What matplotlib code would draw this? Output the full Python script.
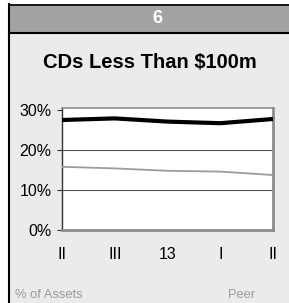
import matplotlib
matplotlib.use("Agg")
from matplotlib import pyplot as plt
from matplotlib.patches import Rectangle
from matplotlib.lines import Line2D
from matplotlib.ticker import FuncFormatter

plt.rcParams['font.family'] = ['Liberation Sans', 'DejaVu Sans']

# data
quarters = ["II", "III", "13", "I", "II"]
bank = [0.275, 0.279, 0.271, 0.267, 0.2775]
peer = [0.158, 0.154, 0.148, 0.146, 0.1375]
y_ticks = [0.0, 0.1, 0.2, 0.3]

W, H = 289, 303
fig = plt.figure(figsize=(W / 100, H / 100), dpi=100)
fig.patch.set_facecolor("white")


def fx(px):
    return px / W


def fy(py):
    return 1 - py / H


# panel background, header band and borders
fig.patches.append(Rectangle((fx(9), 0), 1 - fx(9), fy(4), transform=fig.transFigure,
                             facecolor="#ebebed", edgecolor="none", zorder=-3))
fig.patches.append(Rectangle((fx(9), fy(32.5)), 1 - fx(9), fy(4.5) - fy(32.5),
                             transform=fig.transFigure, facecolor="#a3a3a3",
                             edgecolor="none", zorder=-2))
fig.lines.append(Line2D([fx(9), 1], [fy(4.5), fy(4.5)], transform=fig.transFigure,
                        color="black", lw=1.2, zorder=-1))
fig.lines.append(Line2D([fx(9), 1], [fy(32.5), fy(32.5)], transform=fig.transFigure,
                        color="black", lw=1.5, zorder=-1))
fig.lines.append(Line2D([fx(9), fx(9)], [0, fy(4)], transform=fig.transFigure,
                        color="black", lw=1.5, zorder=-1))

fig.text(fx(157), fy(18.5), "6", color="white", fontsize=13, fontweight="bold",
         ha="center", va="center")
fig.text(fx(150), fy(62), "CDs Less Than $100m", color="black", fontsize=14.5,
         fontweight="bold", ha="center", va="center")
fig.text(fx(15), fy(295), "% of Assets", color="#9a9a9a", fontsize=9.3,
         ha="left", va="center")
fig.text(fx(228), fy(295), "Peer", color="#9a9a9a", fontsize=9.3,
         ha="left", va="center")

ax = fig.add_axes([fx(62), fy(230), fx(273) - fx(62), fy(108) - fy(230)])
ax.set_zorder(5)
ax.set_facecolor("white")
x = list(range(len(quarters)))
ax.plot(x, peer, color="#9c9c9c", lw=1.3, zorder=3)
ax.plot(x, bank, color="black", lw=3, zorder=4, solid_capstyle="butt")

ax.set_xlim(0, len(quarters) - 1)
ax.set_ylim(0, 0.305)
ax.set_yticks(y_ticks)
ax.yaxis.set_major_formatter(FuncFormatter(lambda v, p: "%d%%" % round(v * 100)))
ax.set_xticks(x)
ax.set_xticklabels(quarters)
for g in [0.1, 0.2]:
    ax.axhline(g, color="#555555", lw=0.8, zorder=2)

ax.tick_params(axis="y", length=3.5, width=0.8, color="#333333", pad=4,
               labelsize=11.5)
ax.tick_params(axis="x", length=0, pad=12, labelsize=11.5)

ax.spines["left"].set_color("#333333")
ax.spines["left"].set_linewidth(1.0)
ax.spines["top"].set_color("#8c8c8c")
ax.spines["top"].set_linewidth(1.2)
ax.spines["right"].set_color("#8c8c8c")
ax.spines["right"].set_linewidth(2.0)
ax.spines["bottom"].set_color("#8c8c8c")
ax.spines["bottom"].set_linewidth(2.0)

fig.savefig("out.png", dpi=100)
